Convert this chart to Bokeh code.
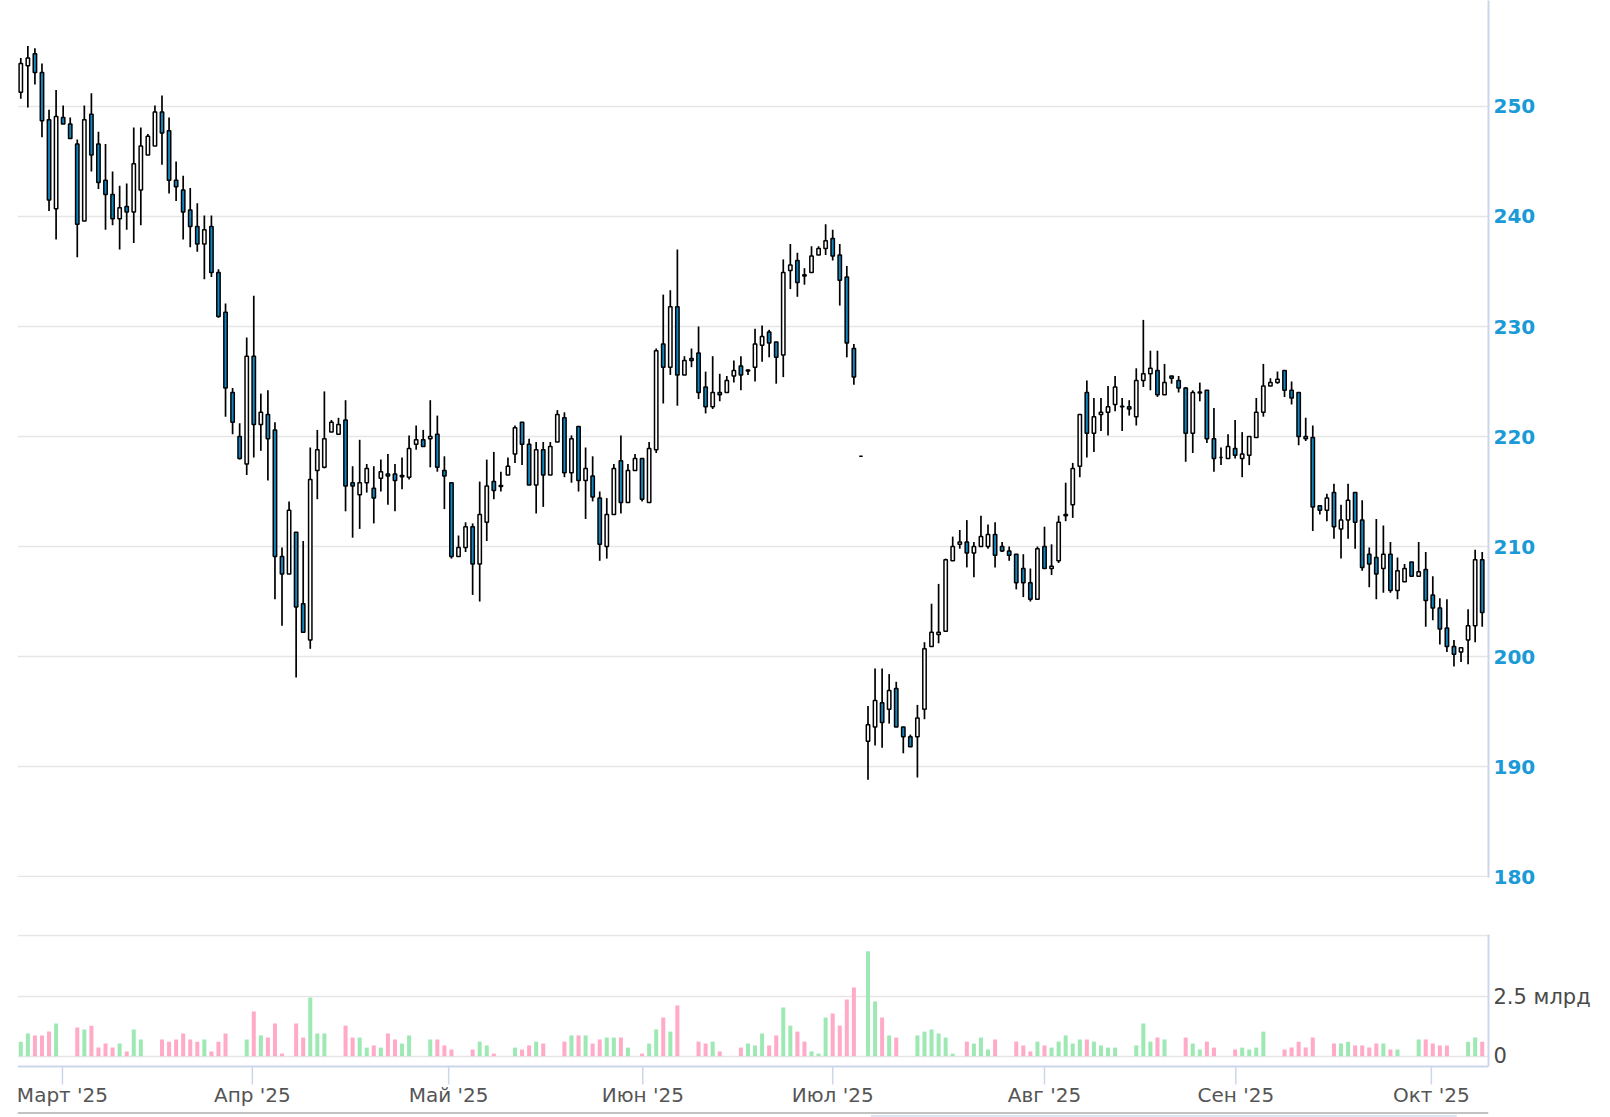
from bokeh.plotting import figure
from bokeh.models import Range1d, FixedTicker, ColumnDataSource
from bokeh.core.properties import value
from bokeh.layouts import column
from bokeh.embed import file_html
from bokeh.resources import INLINE

# ---- data (one entry per trading session) ----
opens = [251.3, 253.7, 254.8, 253.1, 248.8, 240.7, 249.0, 248.4, 246.6, 239.6,
         249.3, 246.6, 243.3, 242.0, 239.8, 240.9, 240.4, 242.4, 245.6, 246.4,
         249.5, 247.8, 243.3, 242.4, 240.6, 239.1, 237.5, 239.1, 234.9, 231.3,
         224.0, 220.0, 217.5, 227.3, 221.1, 222.0, 220.6, 209.1, 207.5, 211.3,
         204.8, 201.5, 216.9, 217.2, 220.4, 220.2, 221.5, 215.8, 214.7, 215.8,
         215.3, 216.2, 216.6, 216.6, 216.35, 216.3, 219.3, 219.7, 219.8, 220.2,
         216.9, 215.8, 209.1, 209.9, 211.8, 208.4, 212.2, 215.9, 215.45, 216.5,
         218.4, 221.3, 219.3, 215.6, 218.8, 216.5, 219.5, 221.7, 216.7, 220.9,
         216.0, 216.4, 214.4, 210.0, 212.9, 217.8, 214.0, 216.9, 218.0, 214.0,
         218.8, 228.4, 226.3, 231.8, 225.6, 227.1, 227.6, 224.5, 222.7, 224.0,
         224.0, 225.5, 226.4, 225.95, 226.3, 228.3, 229.5, 228.6, 227.4, 235.1,
         236.0, 234.7, 234.9, 236.5, 237.1, 238.0, 236.5, 234.5, 228.0, 218.2,
         192.3, 193.6, 195.8, 195.2, 197.1, 193.6, 192.7, 192.7, 195.2, 200.9,
         202.0, 202.3, 208.7, 210.2, 210.4, 209.4, 210.0, 210.0, 211.1, 210.0,
         209.6, 209.3, 208.0, 206.7, 205.2, 210.0, 208.0, 208.7, 212.8, 213.8,
         217.3, 224.0, 220.3, 222.0, 222.2, 222.9, 222.7, 222.7, 221.8, 225.1,
         225.7, 226.0, 223.8, 225.5, 225.1, 224.4, 220.3, 223.95, 224.2, 219.8,
         218.1, 218.0, 218.9, 218.0, 218.3, 219.9, 222.2, 224.6, 224.9, 226.0,
         224.2, 224.0, 220.0, 219.9, 213.7, 213.3, 214.9, 211.6, 212.4, 214.9,
         212.4, 209.3, 209.0, 208.0, 209.3, 206.0, 206.8, 208.6, 207.3, 207.9,
         205.6, 204.4, 202.6, 200.9, 200.4, 201.5, 202.8, 208.8]
highs = [254.4, 255.5, 255.3, 253.9, 249.7, 251.5, 250.1, 249.0, 247.0, 250.1,
         251.2, 247.7, 246.6, 244.1, 242.8, 243.0, 248.1, 248.1, 247.5, 250.1,
         251.0, 249.0, 245.0, 243.7, 242.6, 241.2, 240.1, 240.1, 235.2, 232.1,
         224.4, 221.2, 229.0, 232.8, 223.9, 224.2, 221.3, 209.9, 214.1, 211.3,
         210.5, 219.0, 220.6, 224.1, 221.5, 221.7, 223.3, 217.3, 219.7, 217.5,
         217.3, 217.9, 218.4, 217.5, 218.1, 220.1, 221.0, 220.6, 223.3, 221.9,
         218.2, 215.8, 211.0, 212.2, 212.1, 215.9, 217.9, 218.6, 216.8, 218.1,
         221.0, 221.3, 219.8, 219.5, 219.5, 219.5, 222.4, 222.2, 220.1, 220.9,
         219.0, 218.2, 215.0, 214.4, 217.5, 220.1, 217.5, 218.4, 218.0, 219.5,
         228.0, 232.9, 233.3, 237.0, 227.3, 228.0, 230.0, 225.9, 227.3, 225.7,
         225.5, 226.9, 227.3, 226.1, 229.8, 230.1, 229.7, 228.6, 236.1, 237.5,
         236.7, 235.3, 237.3, 237.3, 239.3, 238.8, 237.5, 235.5, 228.4, 218.2,
         195.5, 198.9, 198.9, 198.4, 197.7, 193.6, 192.9, 195.6, 201.3, 204.8,
         206.6, 208.9, 210.9, 211.5, 212.4, 210.4, 212.8, 212.0, 212.2, 210.4,
         210.0, 209.3, 209.3, 208.0, 210.0, 211.8, 210.2, 212.8, 215.8, 217.6,
         222.0, 225.1, 223.5, 223.5, 224.6, 225.5, 223.5, 223.3, 226.2, 230.6,
         227.8, 227.8, 226.6, 225.5, 225.5, 224.5, 224.2, 224.9, 224.2, 222.6,
         219.0, 220.2, 221.5, 220.4, 220.0, 223.5, 226.6, 225.3, 225.9, 226.0,
         225.0, 224.0, 221.7, 221.0, 213.7, 214.8, 215.7, 213.8, 215.7, 214.9,
         214.2, 209.9, 212.5, 211.9, 210.4, 209.0, 208.4, 208.6, 210.4, 209.5,
         207.3, 205.3, 205.2, 201.5, 200.8, 204.3, 209.7, 209.5]
lows = [250.7, 249.9, 252.0, 247.2, 240.5, 237.9, 248.4, 247.1, 236.3, 239.6,
        244.1, 242.5, 238.8, 239.2, 237.0, 238.8, 237.6, 239.2, 245.6, 246.4,
        244.7, 242.1, 241.4, 237.9, 237.2, 236.8, 234.3, 234.5, 230.8, 221.8,
        220.2, 217.9, 216.5, 218.1, 218.7, 216.0, 205.2, 202.8, 207.5, 198.1,
        202.2, 200.7, 214.3, 217.1, 220.4, 220.2, 213.2, 210.8, 211.6, 214.9,
        212.1, 215.0, 213.8, 213.2, 215.2, 216.1, 218.8, 219.1, 217.2, 216.8,
        213.4, 208.9, 209.1, 209.5, 205.6, 205.0, 210.5, 214.3, 215.0, 216.5,
        217.6, 217.4, 215.6, 213.0, 213.6, 216.5, 219.5, 216.3, 215.8, 215.0,
        212.5, 214.1, 208.7, 208.9, 212.9, 213.0, 214.0, 216.9, 214.1, 214.0,
        218.5, 223.0, 225.6, 222.8, 225.6, 226.3, 223.4, 222.1, 222.5, 223.2,
        224.0, 224.9, 224.2, 225.6, 225.0, 226.8, 227.2, 224.8, 225.4, 233.4,
        232.7, 233.8, 234.9, 236.5, 236.5, 236.0, 231.9, 227.2, 224.7, 218.2,
        188.8, 191.9, 191.7, 193.9, 193.6, 191.2, 191.8, 189.0, 194.3, 200.9,
        201.2, 202.3, 208.7, 209.8, 208.1, 207.2, 210.0, 209.8, 208.1, 209.5,
        208.7, 206.1, 205.4, 205.0, 205.2, 208.0, 207.4, 208.5, 212.3, 212.6,
        216.3, 218.1, 218.6, 220.5, 220.1, 222.3, 220.5, 221.9, 221.0, 224.5,
        224.2, 223.6, 223.8, 224.8, 224.0, 217.7, 218.5, 223.2, 219.4, 216.8,
        217.4, 218.0, 218.0, 216.3, 217.4, 219.9, 221.8, 224.6, 224.8, 223.6,
        222.9, 219.2, 219.6, 211.4, 212.9, 212.3, 210.7, 208.9, 210.7, 209.8,
        207.8, 206.3, 205.2, 205.8, 205.8, 205.2, 206.8, 207.3, 207.3, 202.7,
        203.3, 201.1, 200.4, 199.1, 199.5, 199.3, 201.3, 202.7]
closes = [253.9, 254.4, 253.1, 248.7, 241.5, 249.1, 248.4, 247.1, 239.3, 248.8,
          245.6, 243.1, 242.0, 239.8, 240.8, 240.4, 244.8, 246.4, 247.3, 249.5,
          247.6, 243.3, 242.7, 240.4, 239.1, 237.5, 238.8, 234.9, 230.9, 224.4,
          221.3, 218.0, 227.3, 221.1, 222.2, 219.8, 209.1, 207.5, 213.3, 204.5,
          202.2, 216.1, 218.8, 219.8, 221.3, 221.1, 215.5, 215.5, 215.8, 217.1,
          214.4, 216.8, 216.4, 216.0, 216.45, 218.9, 219.7, 219.1, 220.0, 217.2,
          216.4, 209.1, 209.9, 211.8, 208.4, 212.9, 215.5, 215.1, 215.55, 217.3,
          220.8, 219.3, 215.6, 218.8, 216.5, 219.1, 222.0, 216.7, 219.8, 216.0,
          217.1, 214.5, 210.2, 212.9, 217.1, 214.0, 216.9, 218.0, 214.3, 218.9,
          227.8, 226.3, 231.8, 225.6, 226.9, 226.9, 224.0, 222.7, 224.0, 223.8,
          225.1, 226.0, 225.6, 226.05, 228.4, 229.1, 228.5, 227.2, 234.9, 235.6,
          234.0, 234.6, 236.4, 237.1, 237.8, 236.4, 234.2, 228.5, 225.4, 218.2,
          193.8, 196.0, 194.0, 196.9, 193.6, 192.7, 191.8, 194.4, 200.7, 202.2,
          202.2, 208.8, 210.0, 210.4, 209.4, 210.0, 210.9, 211.1, 209.2, 209.6,
          209.2, 206.7, 206.7, 205.2, 209.8, 208.0, 208.2, 212.2, 212.9, 217.1,
          222.0, 220.3, 221.8, 222.2, 222.7, 224.5, 222.75, 222.5, 225.1, 225.7,
          226.2, 223.8, 224.9, 225.3, 224.4, 220.3, 224.0, 224.05, 219.8, 218.0,
          218.1, 219.1, 218.3, 218.4, 220.0, 222.2, 224.6, 224.9, 225.2, 224.2,
          223.5, 220.0, 219.8, 213.6, 213.3, 214.4, 211.8, 212.4, 214.2, 212.2,
          208.1, 208.4, 207.5, 209.3, 206.0, 207.8, 208.0, 207.3, 207.7, 205.1,
          204.4, 202.5, 200.9, 200.2, 200.8, 202.8, 208.8, 204.0]
# volume, billions (0 = weekend session, bar not visible)
volumes = [0.61, 0.95, 0.87, 0.87, 1.03, 1.37, 0, 0, 1.20, 1.12,
           1.28, 0.36, 0.53, 0.36, 0.53, 0.20, 1.12, 0.70, 0, 0,
           0.70, 0.61, 0.70, 0.95, 0.70, 0.61, 0.70, 0.20, 0.61, 0.95,
           0, 0, 0.70, 1.87, 0.87, 0.78, 1.37, 0.11, 0, 1.37,
           0.78, 2.46, 0.95, 0.95, 0, 0, 1.28, 0.78, 0.78, 0.36,
           0.45, 0.36, 0.95, 0.70, 0.53, 0.87, 0, 0, 0.70, 0.70,
           0.45, 0.28, 0, 0, 0.28, 0.61, 0.45, 0.11, 0, 0,
           0.36, 0.28, 0.45, 0.61, 0.53, 0, 0, 0.61, 0.87, 0.87,
           0.87, 0.53, 0.70, 0.78, 0.78, 0.78, 0.36, 0, 0.11, 0.53,
           1.12, 1.62, 1.03, 2.12, 0, 0, 0.61, 0.53, 0.61, 0.20,
           0, 0, 0.36, 0.53, 0.45, 0.95, 0.45, 0.87, 2.04, 1.28,
           1.03, 0.61, 0.20, 0.11, 1.62, 1.79, 1.28, 2.37, 2.88, 0,
           4.39, 2.29, 1.62, 0.87, 0.78, 0, 0, 0.87, 1.03, 1.12,
           0.95, 0.78, 0.11, 0, 0.61, 0.53, 0.78, 0.28, 0.70, 0,
           0, 0.61, 0.45, 0.20, 0.61, 0.45, 0.36, 0.61, 0.87, 0.53,
           0.70, 0.70, 0.61, 0.45, 0.36, 0.36, 0, 0, 0.45, 1.37,
           0.61, 0.78, 0.70, 0, 0, 0.78, 0.53, 0.28, 0.61, 0.36,
           0, 0, 0.28, 0.36, 0.28, 0.36, 1.03, 0, 0, 0.28,
           0.36, 0.61, 0.36, 0.78, 0, 0, 0.53, 0.53, 0.61, 0.45,
           0.45, 0.36, 0.53, 0.53, 0.28, 0.28, 0, 0, 0.70, 0.70,
           0.53, 0.45, 0.45, 0, 0, 0.61, 0.78, 0.61]

month_labels = ["Март '25", "Апр '25", "Май '25", "Июн '25",
                "Июл '25", "Авг '25", "Сен '25", "Окт '25"]
month_slots = [5.9, 32.8, 60.6, 88.1, 115.0, 145.0, 172.1, 199.8]
price_ticks = [180, 190, 200, 210, 220, 230, 240, 250]
volume_ticks = [0, 2.5]
volume_tick_labels = ["0", "2.5 млрд"]
navigator_window = [120.4, 203.4]   # selected span shown by the navigator strip

# ---- styling ----
BLUE = "#0f88c2"
GREEN = "#9ee9b3"
PINK = "#ffaac6"
GRID = "#e6e6e6"
AXIS = "#ccd6eb"
LABEL_BLUE = "#1a9ad6"
FONT = "DejaVu Sans"

n = len(opens)
xs = list(range(n))
up = [c >= o for o, c in zip(opens, closes)]
src = ColumnDataSource(dict(
    x=xs, high=highs, low=lows,
    top=[max(o, c) for o, c in zip(opens, closes)],
    bot=[min(o, c) for o, c in zip(opens, closes)],
    fill=["#ffffff" if u else BLUE for u in up],
    vol=volumes,
    vcol=[GREEN if u else PINK for u in up],
))

FRAME_W = 1471
LEFT = 17
xr = Range1d(-0.467, 207.89)

# ---- price panel ----
p = figure(frame_width=FRAME_W, frame_height=877, x_range=xr,
           y_range=Range1d(179.91, 259.636), output_backend="svg",
           toolbar_location=None, x_axis_location=None, y_axis_location="right",
           min_border_left=LEFT, min_border_top=0, min_border_bottom=14, min_border_right=0)
p.outline_line_color = None
p.xgrid.visible = False
p.ygrid.ticker = FixedTicker(ticks=price_ticks)
p.ygrid.grid_line_color = GRID
p.ygrid.grid_line_width = 1.3
ya = p.yaxis[0]
ya.ticker = FixedTicker(ticks=price_ticks)
ya.axis_line_color = AXIS
ya.axis_line_width = 2
ya.major_tick_line_color = None
ya.major_tick_out = 0
ya.major_tick_in = 0
ya.minor_tick_line_color = None
ya.minor_tick_out = 0
ya.major_label_text_color = LABEL_BLUE
ya.major_label_text_font = FONT
ya.major_label_text_font_size = "20px"
ya.major_label_text_font_style = "bold"
ya.major_label_standoff = 5

p.segment(x0="x", y0="low", x1="x", y1="high", source=src,
          line_color="black", line_width=1.7)
p.vbar(x="x", width=0.48, top="top", bottom="bot", source=src,
       fill_color="fill", line_color="black", line_width=1.5)

# ---- volume panel: frame runs to the bottom of the page, the time axis is drawn in it ----
PX_PER_UNIT = 23.88          # pixels per billion
ZERO_PAGE_Y = 1055.7         # page row of the zero line
VOL_TOP_PAGE_Y = 934
PAGE_BOTTOM = 1117


def vol_at(page_y):
    return (ZERO_PAGE_Y - page_y) / PX_PER_UNIT


v = figure(frame_width=FRAME_W, frame_height=PAGE_BOTTOM - VOL_TOP_PAGE_Y, x_range=xr,
           y_range=Range1d(vol_at(PAGE_BOTTOM), vol_at(VOL_TOP_PAGE_Y)), output_backend="svg",
           toolbar_location=None, x_axis_location=None, y_axis_location="right",
           min_border_left=LEFT, min_border_top=VOL_TOP_PAGE_Y - 891,
           min_border_bottom=0, min_border_right=0)
v.outline_line_color = None
v.xgrid.visible = False
v.ygrid.ticker = FixedTicker(ticks=volume_ticks + [vol_at(VOL_TOP_PAGE_Y + 1)])
v.ygrid.grid_line_color = GRID
v.ygrid.grid_line_width = 1.3
vy = v.yaxis[0]
vy.ticker = FixedTicker(ticks=volume_ticks)
vy.bounds = (vol_at(1066), vol_at(VOL_TOP_PAGE_Y))
vy.major_label_overrides = {t: s for t, s in zip(volume_ticks, volume_tick_labels)}
vy.axis_line_color = AXIS
vy.axis_line_width = 2
vy.major_tick_line_color = None
vy.major_tick_out = 0
vy.major_tick_in = 0
vy.minor_tick_line_color = None
vy.minor_tick_out = 0
vy.major_label_text_color = "#4a4a4a"
vy.major_label_text_font = FONT
vy.major_label_text_font_size = "21px"
vy.major_label_standoff = 5

v.vbar(x="x", width=0.57, top="vol", bottom=0, source=src,
       fill_color="vcol", line_color=None)

# time axis line, month ticks and labels
v.segment(x0=xr.start, y0=vol_at(1066), x1=xr.end, y1=vol_at(1066),
          line_color=AXIS, line_width=2)
v.segment(x0=month_slots, y0=[vol_at(1066)] * len(month_slots),
          x1=month_slots, y1=[vol_at(1084)] * len(month_slots),
          line_color=AXIS, line_width=1.5)
v.text(x=month_slots, y=[vol_at(1082.5)] * len(month_slots), text=month_labels,
       text_font=value(FONT), text_font_size="20px", text_color="#555555",
       text_align="center", text_baseline="top")

# navigator strip at the very bottom
v.quad(left=navigator_window[0], right=navigator_window[1],
       bottom=vol_at(PAGE_BOTTOM), top=vol_at(1114.5),
       fill_color="#dce4f2", line_color=None)
v.segment(x0=xr.start, y0=vol_at(1112.5), x1=xr.end, y1=vol_at(1112.5),
          line_color="#c2c2c2", line_width=2)

layout = column(p, v, spacing=0)
open("out.html", "w").write(file_html(layout, INLINE))
